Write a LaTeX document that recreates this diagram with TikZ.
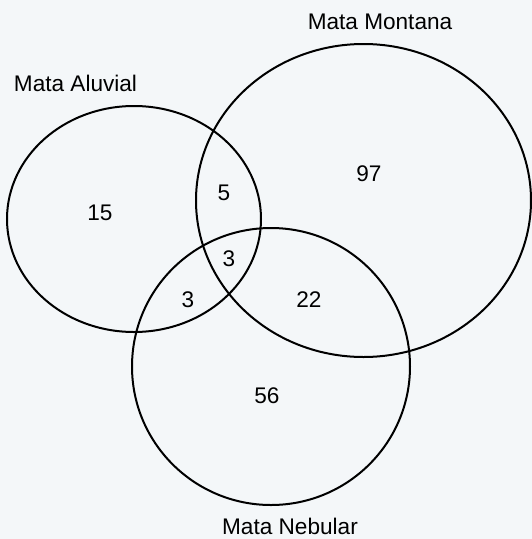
\documentclass[tikz,border=0pt]{standalone}
\usepackage{fontspec}
\setmainfont{Liberation Sans}
\usepackage{tikz}

\definecolor{paper}{RGB}{244,247,249}
\tikzset{
    setline/.style={draw=black, line width=2pt},
    setlabel/.style={inner sep=0pt},
}

\begin{document}
\begin{tikzpicture}[x=1pt, y=-1pt, every node/.style={font=\fontsize{22.6}{26}\selectfont}]
    \fill[paper] (0,0) rectangle (532,539);

    % sets
    \draw[setline] (134,219) ellipse [x radius=127pt, y radius=113pt];
    \draw[setline] (363.5,200.5) ellipse [x radius=167.5pt, y radius=156.5pt];
    \draw[setline] (271,366.5) ellipse [x radius=139pt, y radius=138.5pt];

    % set names
    \node[setlabel] (aluvial) at (75.5,83) {Mata Aluvial};
    \node[setlabel] (montana) at (380,22) {Mata Montana};
    \node[setlabel] (nebular) at (290,526) {Mata Nebular};

    % counts
    \node[setlabel] (a) at (100,213) {15};
    \node[setlabel] (am) at (224,193) {5};
    \node[setlabel] (m) at (369,174) {97};
    \node[setlabel] (amn) at (229,259) {3};
    \node[setlabel] (an) at (188,300) {3};
    \node[setlabel] (mn) at (309,300) {22};
    \node[setlabel] (n) at (267,396) {56};
\end{tikzpicture}
\end{document}
